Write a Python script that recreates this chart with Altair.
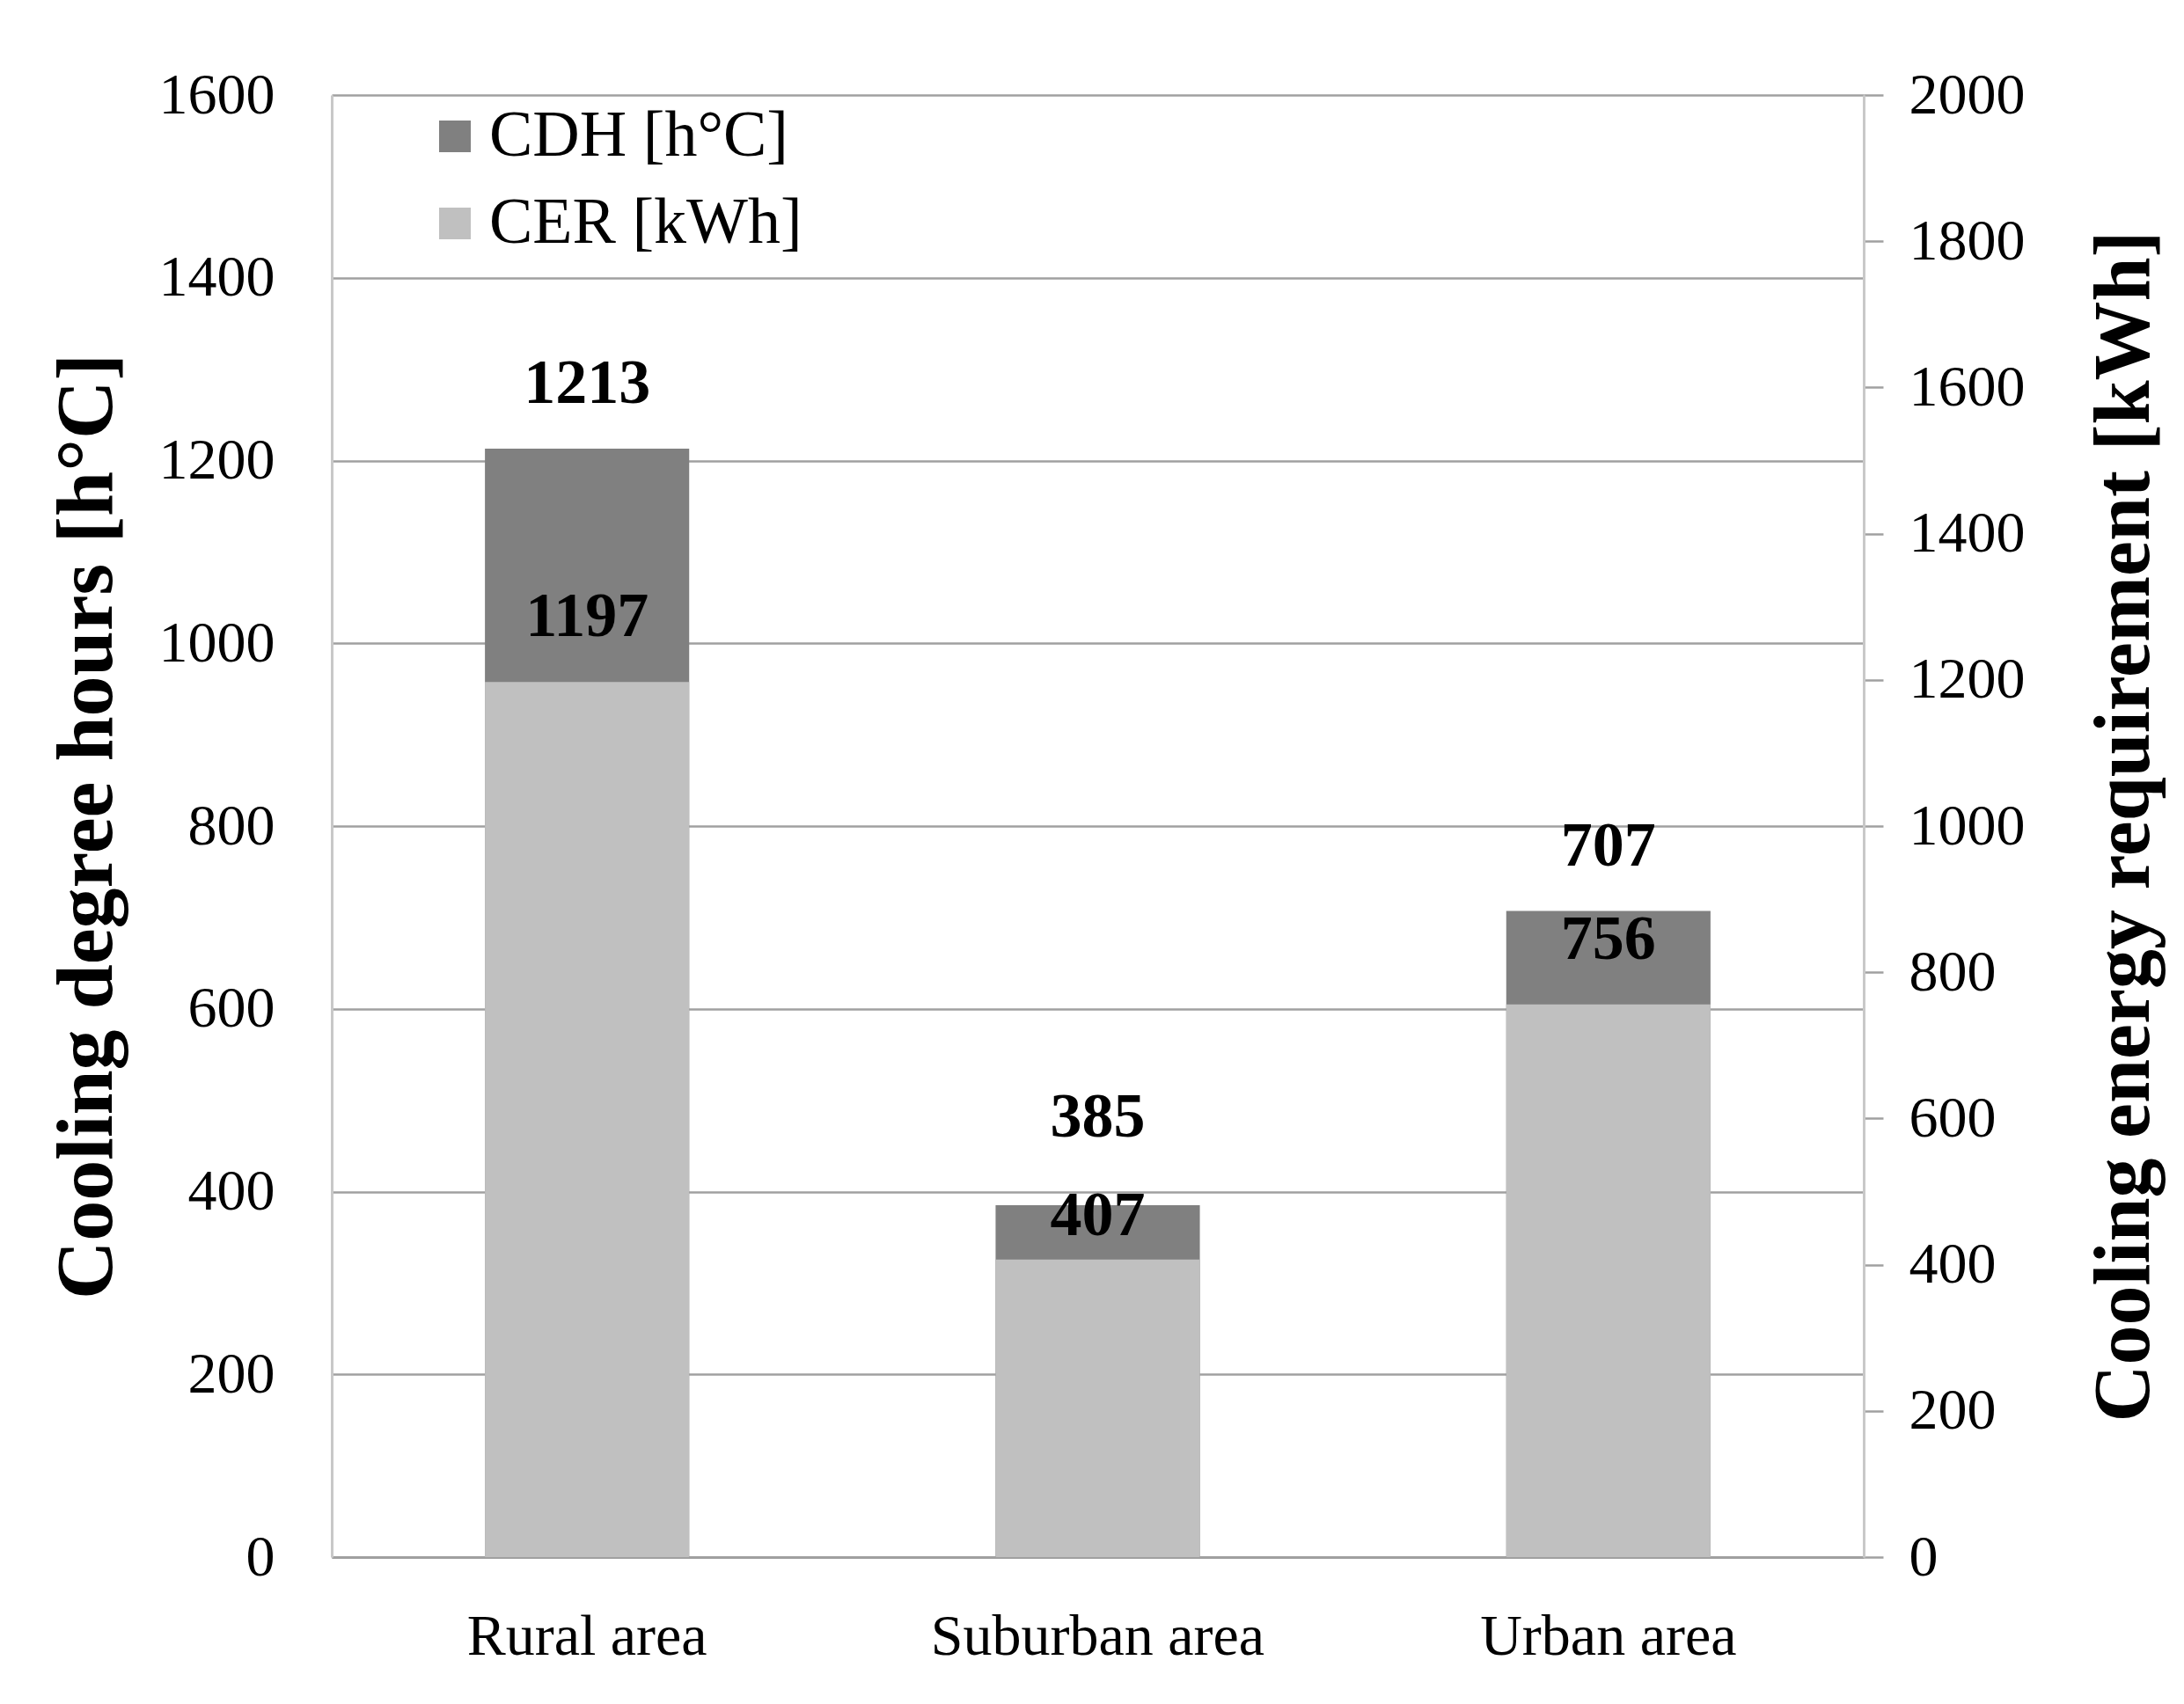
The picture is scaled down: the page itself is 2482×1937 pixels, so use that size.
import altair as alt
import pandas as pd

areas = ["Rural area", "Suburban area", "Urban area"]
cdh = [1213, 385, 707]
cer = [1197, 407, 756]
series = ["CDH [h°C]", "CER [kWh]"]
colors = ["#808080", "#c0c0c0"]
left_ticks = list(range(0, 1601, 200))
right_ticks = list(range(0, 2001, 200))

df = pd.DataFrame({"area": areas, "cdh": cdh, "cer": cer})

FONT = "Liberation Serif"

x = alt.X(
    "area:N", sort=areas,
    scale=alt.Scale(paddingInner=0.6, paddingOuter=0.3),
    axis=alt.Axis(title=None, labelAngle=0, ticks=False, labelPadding=58, labelLimit=0,
                  labelFontSize=66, labelFont=FONT, labelColor="black",
                  domainColor="#a0a0a0", domainWidth=3, grid=False),
)

color = alt.Color(
    "series:N",
    scale=alt.Scale(domain=series, range=colors),
    legend=alt.Legend(title=None, orient="none", legendX=103, legendY=10,
                      symbolType="square", symbolSize=1296, symbolStrokeWidth=0,
                      labelFont=FONT, labelFontSize=74, labelColor="black", labelLimit=0,
                      rowPadding=25, labelOffset=2, padding=0, direction="vertical"),
)

y_left = alt.Y(
    "cdh:Q", scale=alt.Scale(domain=[0, 1600], nice=False),
    axis=alt.Axis(title="Cooling degree hours [h°C]", values=left_ticks, format="d",
                  grid=True, gridColor="#a0a0a0", gridWidth=2.5, ticks=False,
                  labelPadding=65, labelFont=FONT, labelFontSize=66, labelColor="black",
                  domainColor="#c8c8c8", domainWidth=3,
                  titleFont=FONT, titleFontSize=92, titleFontWeight="bold", titleColor="black",
                  titleX=-279, titleBaseline="middle"),
)

y_right = alt.Y(
    "cer:Q", scale=alt.Scale(domain=[0, 2000], nice=False),
    axis=alt.Axis(title="Cooling energy requirement [kWh]", orient="right", values=right_ticks,
                  format="d", grid=False, tickSize=22, tickColor="#a0a0a0", tickWidth=2.5,
                  labelPadding=29, labelFont=FONT, labelFontSize=66, labelColor="black",
                  domainColor="#c8c8c8", domainWidth=3,
                  titleFont=FONT, titleFontSize=90, titleFontWeight="bold", titleColor="black",
                  titleX=296, titleBaseline="middle", titleAngle=270),
)

base = alt.Chart(df)

dark = base.mark_bar().transform_calculate(series=f"'{series[0]}'").encode(
    x=x, y=y_left, color=color)
light = base.mark_bar().transform_calculate(series=f"'{series[1]}'").encode(
    x=x, y=y_right, color=color)

# labels: when the two bar tops are close, spread the two labels apart
crowded = "datum.cdh - datum.cer * 0.8 < 80"
spacious = "datum.cdh - datum.cer * 0.8 >= 80"


def label(field, top, dy, test):
    return base.transform_filter(test).mark_text(
        dy=dy, fontSize=72, fontWeight="bold", font=FONT, baseline="middle",
        align="center", color="black").encode(
        x=x, y=alt.Y(f"{field}:Q", scale=alt.Scale(domain=[0, top], nice=False), axis=None),
        text=alt.Text(f"{field}:Q"))


layers = [
    dark, light,
    label("cdh", 1600, -74, spacious), label("cer", 2000, -74, spacious),
    label("cdh", 1600, -100, crowded), label("cer", 2000, -50, crowded),
]

chart = alt.layer(*layers).resolve_scale(y="independent").properties(
    width=1741, height=1662,
    autosize=alt.AutoSizeParams(type="none"),
    padding={"left": 369, "top": 100, "right": 356, "bottom": 159},
    background="white",
).configure_view(stroke=None)

chart.save("out.html", embed_options={"renderer": "svg", "actions": False})
